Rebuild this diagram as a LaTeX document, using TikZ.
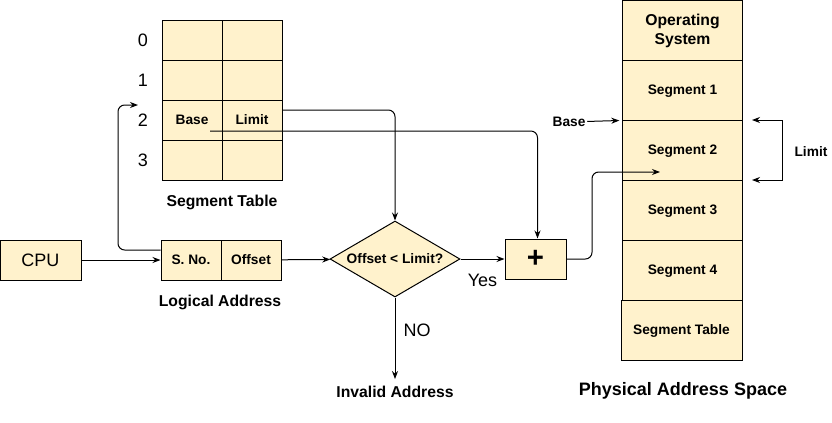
\documentclass[tikz,border=0pt]{standalone}
\usepackage{fontspec}
\setmainfont{Liberation Sans}
\usetikzlibrary{arrows.meta,shapes.geometric,positioning}
\definecolor{boxfill}{HTML}{FFF2CC}

\begin{document}
\begin{tikzpicture}[x=0.75pt,y=-0.75pt,line width=0.75pt,
  >={Stealth[length=6pt,width=4.5pt]},
  cell/.style={draw,fill=boxfill,minimum width=45pt,minimum height=30pt,inner sep=0pt,
    font=\fontsize{10.3}{12}\selectfont\bfseries},
  membox/.style={draw,fill=boxfill,minimum width=90pt,minimum height=45pt,inner sep=0pt,
    align=center,text depth=1pt,font=\fontsize{10.3}{12}\selectfont\bfseries},
  plain/.style={inner sep=1pt,font=\fontsize{13.5}{16}\selectfont},
  title/.style={inner sep=1pt,font=\fontsize{11.8}{14}\selectfont\bfseries},
  small/.style={inner sep=1pt,font=\fontsize{10.3}{12}\selectfont\bfseries}]
  \useasboundingbox (0,0) rectangle (832,422);

  % segment table
  \foreach \i in {0,...,3} {
    \node[cell] (b\i) at (192,40+40*\i) {};
    \node[cell] (l\i) at (252,40+40*\i) {};
    \node[plain] (r\i) at (143,40+40*\i) {\i};
  }
  \node[small] at (b2) {Base};
  \node[small] at (l2) {Limit};
  \node[title] (segtab) at (222,202) {Segment Table};

  % logical address
  \path
  node[cell,minimum width=60.75pt,font=\fontsize{13.5}{16}\selectfont] (cpu) at (40.5,260) {CPU}
  node[cell] (sno) at (191,260) {S. No.}
  node[cell] (off) at (251,260) {Offset}
  node[title] (logaddr) at (220,302) {Logical Address}
  node[diamond,draw,fill=boxfill,aspect=1.7,minimum width=97.5pt,minimum height=57pt,
    inner sep=0pt,font=\fontsize{10.3}{12}\selectfont\bfseries] (dec) at (395,259) {Offset < Limit?}
  node[draw,fill=boxfill,minimum width=45.75pt,minimum height=30pt,inner sep=0pt,
    font=\fontsize{22}{24}\selectfont\bfseries] (plus) at (535.5,259) {+}
  node[title,inner sep=5pt] (inv) at (395,392) {Invalid Address}
  ;

  % physical address space
  \path
  node[membox,font=\fontsize{11.8}{14.5}\selectfont\bfseries] (os) at (682.5,30) {Operating\\System}
  node[membox] (seg1) at (682.5,90) {Segment 1}
  node[membox] (seg2) at (682.5,150) {Segment 2}
  node[membox] (seg3) at (682.5,210) {Segment 3}
  node[membox] (seg4) at (682.5,270) {Segment 4}
  node[membox,minimum width=90.75pt] (stab) at (681.5,330) {Segment Table}
  node[small] (pbase) at (569,122) {Base}
  node[small] (plimit) at (811,152) {Limit}
  node[inner sep=1pt,font=\fontsize{13.5}{16}\selectfont\bfseries] (phys) at (683,391) {Physical Address Space}
  ;

  \coordinate (ret) at (138,105);
  \coordinate (basept) at (210,131);
  \coordinate (segpt) at (660,172);
  \coordinate (la) at (752,120);
  \coordinate (lb) at (752,180);

  \path[->]
  (cpu) edge (sno)
  (off) edge (dec)
  (dec) edge node[below=10pt,plain] {Yes} (plus)
  (dec) edge node[right=5pt,pos=0.4,plain] {NO} (inv)
  (pbase) edge ([xshift=-2pt]seg1.south west)
  ;
  \draw[->,rounded corners=5pt] ([yshift=7.5pt]sno.west) -| (118,105) -- (ret);
  \draw[->,rounded corners=5pt] ([yshift=7.5pt]l2.east) -| (dec.north);
  \draw[->,rounded corners=5pt] (basept) -| ([xshift=1.5pt]plus.north);
  \draw[->,rounded corners=5pt] (plus.east) -| (592,172) -- (segpt);
  \draw[<->] (la) -- (782,120) -- (782,180) -- (lb);
\end{tikzpicture}
\end{document}
